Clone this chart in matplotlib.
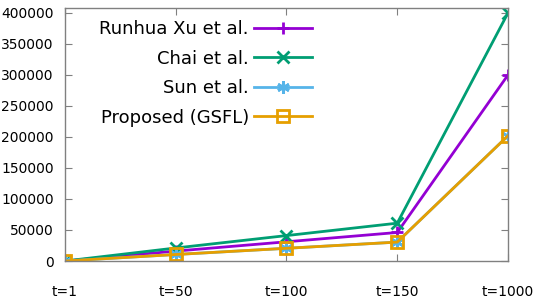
import matplotlib
matplotlib.use("Agg")
import matplotlib.pyplot as plt

# data
steps = ["t=1", "t=50", "t=100", "t=150", "t=1000"]
runhua = [0, 16000, 31000, 46000, 300000]
chai = [0, 21000, 41000, 61000, 400000]
sun = [0, 10500, 20500, 30500, 202000]
proposed = [0, 10500, 20500, 30500, 202000]

plt.rcParams['font.family'] = ['DejaVu Sans']

fig = plt.figure(figsize=(5.35, 3.03), dpi=100)
ax = fig.add_axes([0.1215, 0.1386, 0.828, 0.835])

x = list(range(len(steps)))
ax.plot(x, runhua, color="#9400d3", lw=2, marker="+", ms=9, mew=2, label="Runhua Xu et al.")
ax.plot(x, chai, color="#009e73", lw=2, marker="x", ms=8, mew=2, label="Chai et al.")
ax.plot(x, sun, color="#56b4e9", lw=2, marker=(6, 2, 0), ms=9, mew=2, label="Sun et al.")
ax.plot(x, proposed, color="#e69f00", lw=2, marker="s", ms=8, mew=2, mfc="none",
        label="Proposed (GSFL)")

ax.set_xlim(0, 4)
ax.set_ylim(0, 408000)
ax.set_xticks(x)
ax.set_xticklabels(steps, fontsize=10)
ax.set_yticks(range(0, 400001, 50000))
ax.tick_params(axis="both", direction="in", top=True, right=True, length=5,
               color="#808080", labelsize=10)
ax.tick_params(axis="x", pad=17)
ax.tick_params(axis="y", pad=8)
for s in ax.spines.values():
    s.set_color("#808080")
    s.set_linewidth(1)

leg = ax.legend(loc="upper right", bbox_to_anchor=(312 / 535, 1 - 20 / 303),
                bbox_transform=fig.transFigure, frameon=False, markerfirst=False,
                fontsize=13, handlelength=3.2, handletextpad=0.3, labelspacing=0.64,
                borderaxespad=0, borderpad=0)
for t in leg.get_texts():
    t.set_ha("right")

fig.savefig("out.png", dpi=100)
